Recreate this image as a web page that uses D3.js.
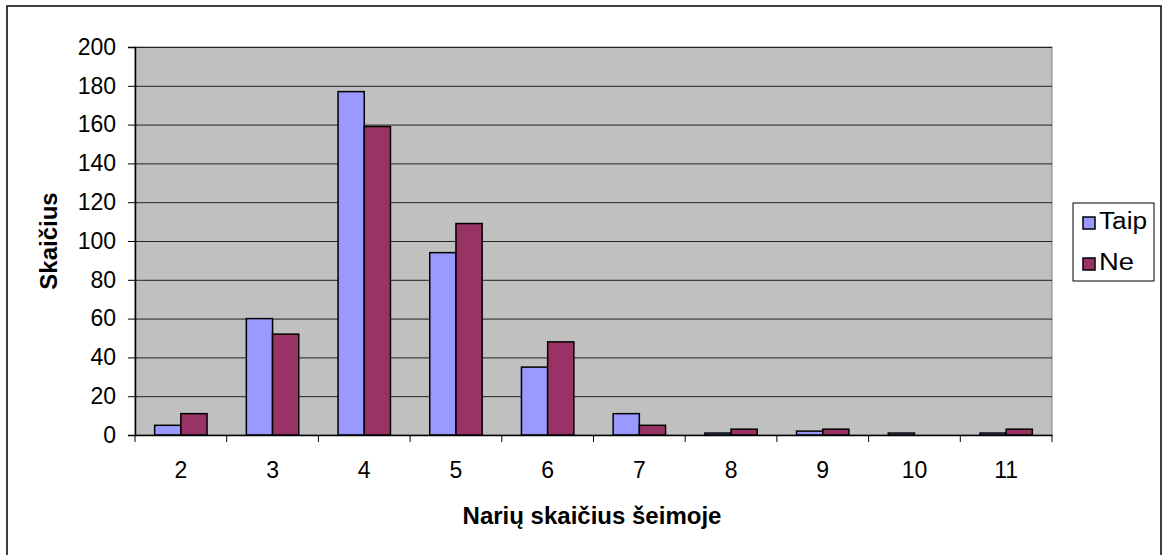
<!DOCTYPE html>
<html>
<head>
<meta charset="utf-8">
<script src="https://cdn.jsdelivr.net/npm/d3@7"></script>
<style>
  body { margin: 0; background: #fff; }
  svg { display: block; font-family: "Liberation Sans", Arial, sans-serif; }
</style>
</head>
<body>
<svg id="chart" width="1162" height="555"></svg>
<script>
// data
var categories = ["2", "3", "4", "5", "6", "7", "8", "9", "10", "11"];
var taip = [5, 60, 177, 94, 35, 11, 1, 2, 1, 1];
var ne = [11, 52, 159, 109, 48, 5, 3, 3, 0, 3];
var seriesNames = ["Taip", "Ne"];
var seriesColors = ["#9999ff", "#993366"];
var yTicks = [0, 20, 40, 60, 80, 100, 120, 140, 160, 180, 200];

var plot = {left: 135, top: 47, right: 1052, bottom: 435};
var fontSize = 23;

var svg = d3.select("#chart");

// outer frame
svg.append("rect")
    .attr("x", 7).attr("y", 6)
    .attr("width", 1154).attr("height", 560)
    .attr("fill", "#fff")
    .attr("stroke", "#000")
    .attr("stroke-width", 1.5);

var x = d3.scaleBand().domain(categories).range([plot.left, plot.right]);
var y = d3.scaleLinear().domain([0, 200]).range([plot.bottom, plot.top]);
var barW = x.bandwidth() / 3.5;

// plot background
svg.append("rect")
    .attr("x", plot.left).attr("y", plot.top)
    .attr("width", plot.right - plot.left).attr("height", plot.bottom - plot.top)
    .attr("fill", "#c0c0c0")
    .attr("stroke", "#808080")
    .attr("stroke-width", 1);

// gridlines
svg.append("g")
    .selectAll("line")
    .data(yTicks.slice(1))
    .enter()
    .append("line")
    .attr("x1", plot.left).attr("x2", plot.right)
    .attr("y1", function(d) { return y(d) + 0.5; })
    .attr("y2", function(d) { return y(d) + 0.5; })
    .attr("stroke", "#222")
    .attr("stroke-width", 1);

// bars
var rows = categories.map(function(c, i) { return {cat: c, vals: [taip[i], ne[i]]}; });
var groups = svg.append("g").selectAll("g")
    .data(rows)
    .enter()
    .append("g");
groups.selectAll("rect")
    .data(function(d) { return d.vals.map(function(v, k) { return {cat: d.cat, v: v, k: k}; }); })
    .enter()
    .filter(function(d) { return d.v > 0; })
    .append("rect")
    .attr("x", function(d) { return x(d.cat) + x.bandwidth() / 2 - barW + d.k * barW; })
    .attr("y", function(d) { return y(d.v); })
    .attr("width", barW)
    .attr("height", function(d) { return y(0) - y(d.v); })
    .attr("fill", function(d) { return seriesColors[d.k]; })
    .attr("stroke", "#000")
    .attr("stroke-width", 1.5);

// y axis
var yAxis = svg.append("g")
    .attr("transform", "translate(" + plot.left + ",0)")
    .call(d3.axisLeft(y).tickValues(yTicks).tickSize(7).tickPadding(12));
yAxis.select(".domain").attr("stroke", "#000").attr("stroke-width", 1.5);
yAxis.selectAll("text").attr("font-size", fontSize).attr("fill", "#000")
    .attr("font-family", "Liberation Sans, Arial, sans-serif");

// x axis
var xAxis = svg.append("g")
    .attr("transform", "translate(0," + plot.bottom + ")")
    .call(d3.axisBottom(x).tickSize(0).tickPadding(27));
xAxis.select(".domain").attr("stroke", "#000").attr("stroke-width", 1.5);
xAxis.selectAll("text").attr("font-size", fontSize).attr("fill", "#000")
    .attr("font-family", "Liberation Sans, Arial, sans-serif");
// category boundary ticks
xAxis.append("g").selectAll("line")
    .data(categories.concat(["end"]))
    .enter()
    .append("line")
    .attr("x1", function(d, i) { return plot.left + i * x.step(); })
    .attr("x2", function(d, i) { return plot.left + i * x.step(); })
    .attr("y1", 0).attr("y2", 7)
    .attr("stroke", "#000");

// axis titles
svg.append("text")
    .attr("x", 592).attr("y", 524)
    .attr("text-anchor", "middle")
    .attr("font-size", 24).attr("font-weight", "bold")
    .text("Narių skaičius šeimoje");
svg.append("text")
    .attr("transform", "translate(57,241) rotate(-90)")
    .attr("text-anchor", "middle")
    .attr("font-size", 24).attr("font-weight", "bold")
    .text("Skaičius");

// legend
var legendText = [48, 35];
var legend = svg.append("g");
legend.append("rect")
    .attr("x", 1073).attr("y", 203)
    .attr("width", 81).attr("height", 78)
    .attr("fill", "#fff").attr("stroke", "#000").attr("stroke-width", 1);
var items = legend.selectAll("g.item")
    .data(seriesNames)
    .enter()
    .append("g")
    .attr("class", "item")
    .attr("transform", function(d, i) { return "translate(1083," + (229 + i * 41) + ")"; });
items.append("rect")
    .attr("x", 0).attr("y", -12)
    .attr("width", 12).attr("height", 12)
    .attr("fill", function(d, i) { return seriesColors[i]; })
    .attr("stroke", "#000").attr("stroke-width", 1.5);
items.append("text")
    .attr("x", 16).attr("y", 0)
    .attr("font-size", fontSize)
    .attr("textLength", function(d, i) { return legendText[i]; })
    .attr("lengthAdjust", "spacingAndGlyphs")
    .text(function(d) { return d; });
</script>
</body>
</html>
